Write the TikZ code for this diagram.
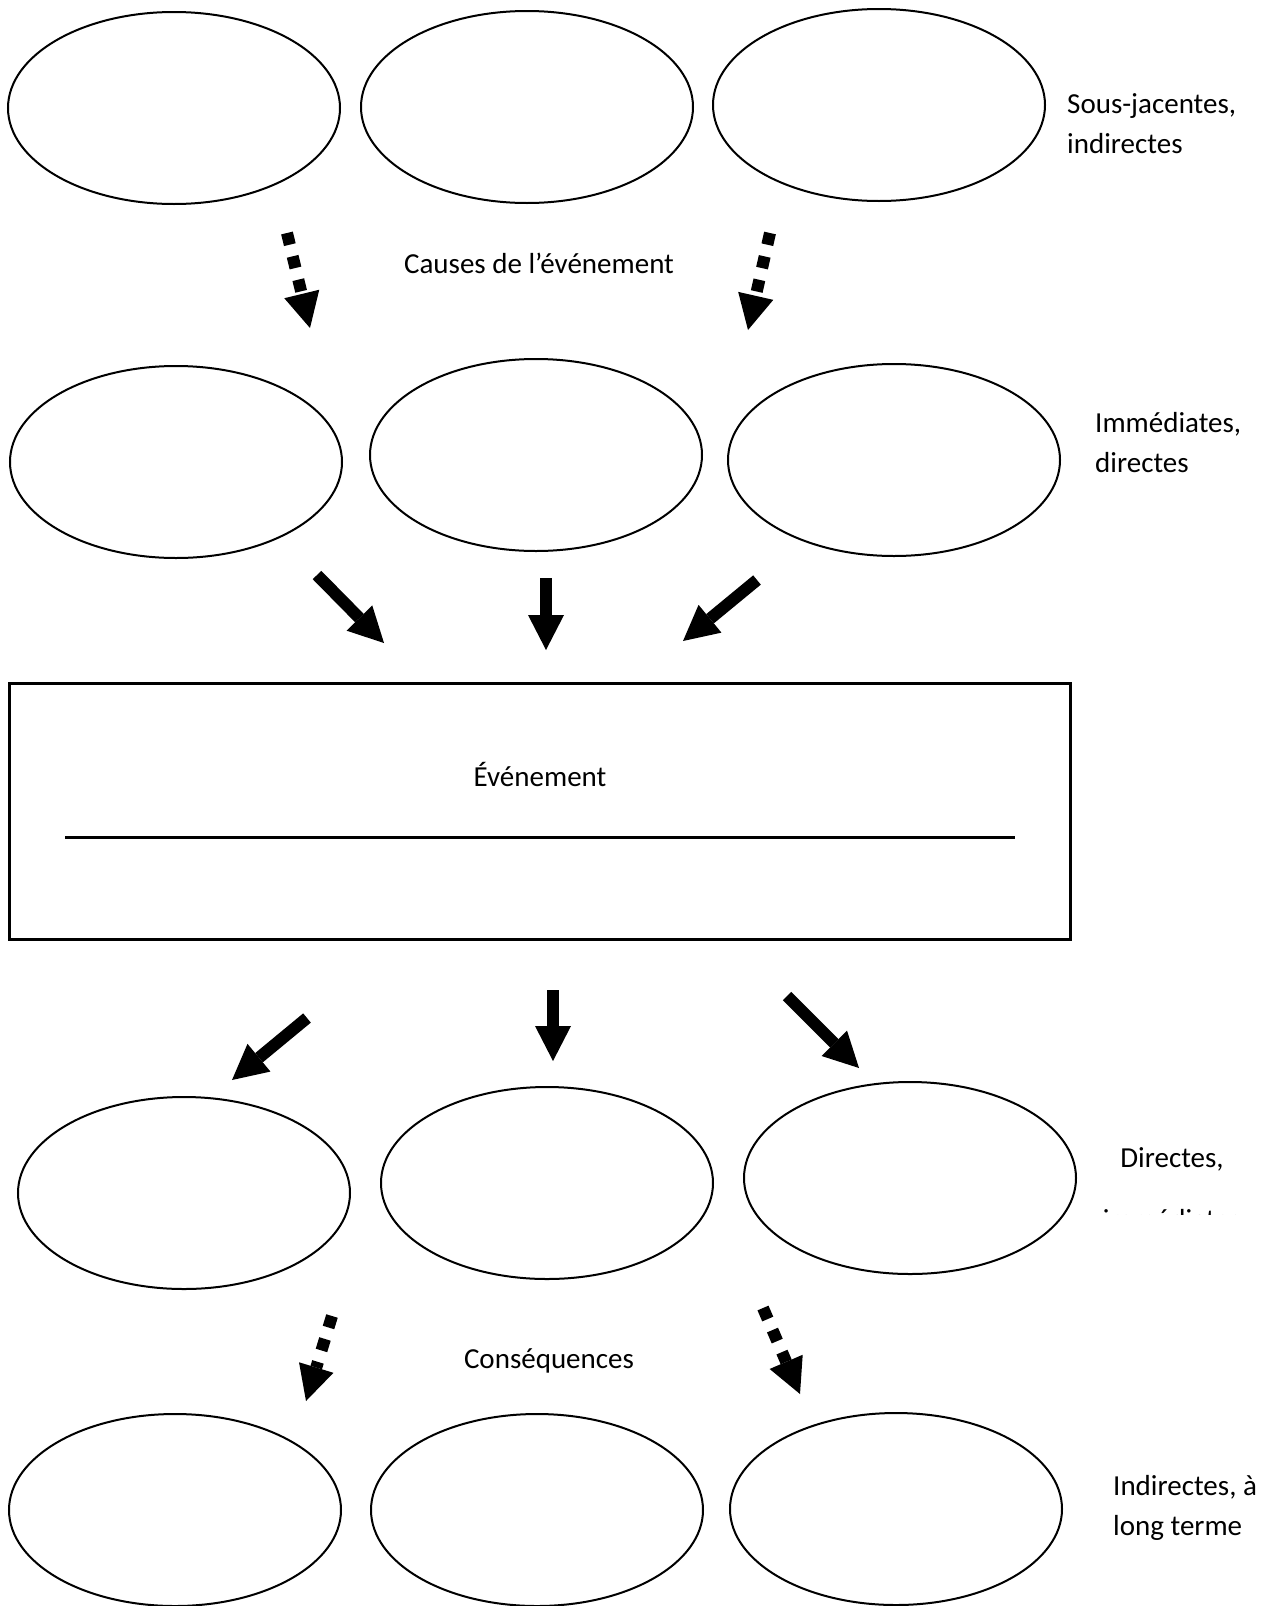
\documentclass[tikz,border=0pt]{standalone}
\usepackage{fontspec}
\setmainfont{Carlito}
\usepackage{tikz}
\usetikzlibrary{shapes.geometric,arrows.meta}
\tikzset{
	bulle/.style={draw, ellipse, line width=2pt, minimum width=332pt, minimum height=192pt, inner sep=0pt},
	fleche/.style={line width=12pt, -{Triangle[length=35pt,width=36pt,line width=0pt]}},
	pointilles/.style={fleche, dash pattern=on 12pt off 12pt},
	etiquette/.style={font=\fontsize{29}{40}\selectfont, inner sep=0pt}
}

\begin{document}
\begin{tikzpicture}[x=1pt,y=-1pt]
			%%%%% START %%%%%
			\useasboundingbox (0,0) rectangle (1274,1606);
			
			% causes sous-jacentes
			\node[bulle] (sj1) at (174,108) {};
			\node[bulle] (sj2) at (527,107) {};
			\node[bulle] (sj3) at (879,105) {};
			\node[etiquette, anchor=base west, align=left] (lsj) at (1067,153) {Sous-jacentes,\\indirectes};
			
			\coordinate (d1a) at (287,233); \coordinate (d1b) at (310,328);
			\coordinate (d2a) at (770,233); \coordinate (d2b) at (748,330);
			\draw[pointilles] (d1a) -- (d1b);
			\draw[pointilles] (d2a) -- (d2b);
			\node[etiquette] (causes) at (539,263) {Causes de l’événement};
			
			% causes immediates
			\node[bulle] (im1) at (176,462) {};
			\node[bulle] (im2) at (536,455) {};
			\node[bulle] (im3) at (894,460) {};
			\node[etiquette, anchor=base west, align=left] (lim) at (1095,472) {Immédiates,\\directes};
			
			\coordinate (s1a) at (317,575); \coordinate (s1b) at (384,643);
			\coordinate (s2a) at (546,578); \coordinate (s2b) at (546,650);
			\coordinate (s3a) at (757,580); \coordinate (s3b) at (683,641);
			\draw[fleche] (s1a) -- (s1b);
			\draw[fleche] (s2a) -- (s2b);
			\draw[fleche] (s3a) -- (s3b);
			
			% evenement
			\node[draw, line width=3pt, minimum width=1061pt, minimum height=256pt, inner sep=0pt] (evt) at (539.5,811) {};
			\node[etiquette] (levt) at (540,774) {Événement};
			\coordinate (ligneg) at (65,837); \coordinate (ligned) at (1015,837);
			\draw[line width=3pt] (ligneg) -- (ligned);
			
			\coordinate (s4a) at (307,1018); \coordinate (s4b) at (232,1080);
			\coordinate (s5a) at (553,990); \coordinate (s5b) at (553,1061);
			\coordinate (s6a) at (787,996); \coordinate (s6b) at (859,1068);
			\draw[fleche] (s4a) -- (s4b);
			\draw[fleche] (s5a) -- (s5b);
			\draw[fleche] (s6a) -- (s6b);
			
			% consequences directes
			\node[bulle] (di1) at (184,1193) {};
			\node[bulle] (di2) at (547,1183) {};
			\node[bulle] (di3) at (910,1178) {};
			\node[etiquette, anchor=base] (ldi) at (1172,1167) {Directes,};
			\begin{scope}
				\clip (1080,1205) rectangle (1274,1214);
				\node[etiquette, anchor=base] (ldi2) at (1172,1229) {immédiates};
			\end{scope}
			
			\coordinate (d3a) at (332,1316); \coordinate (d3b) at (306,1401);
			\coordinate (d4a) at (763,1308); \coordinate (d4b) at (800,1394);
			\draw[pointilles] (d3a) -- (d3b);
			\draw[pointilles] (d4a) -- (d4b);
			\node[etiquette] (csq) at (549,1361) {Conséquences};
			
			% consequences a long terme
			\node[bulle] (lt1) at (175,1510) {};
			\node[bulle] (lt2) at (537,1510) {};
			\node[bulle] (lt3) at (896,1509) {};
			\node[etiquette, anchor=base west, align=left] (llt) at (1113,1535) {Indirectes, à\\long terme};
			
			%%%%% END %%%%%
\end{tikzpicture}
\end{document}
